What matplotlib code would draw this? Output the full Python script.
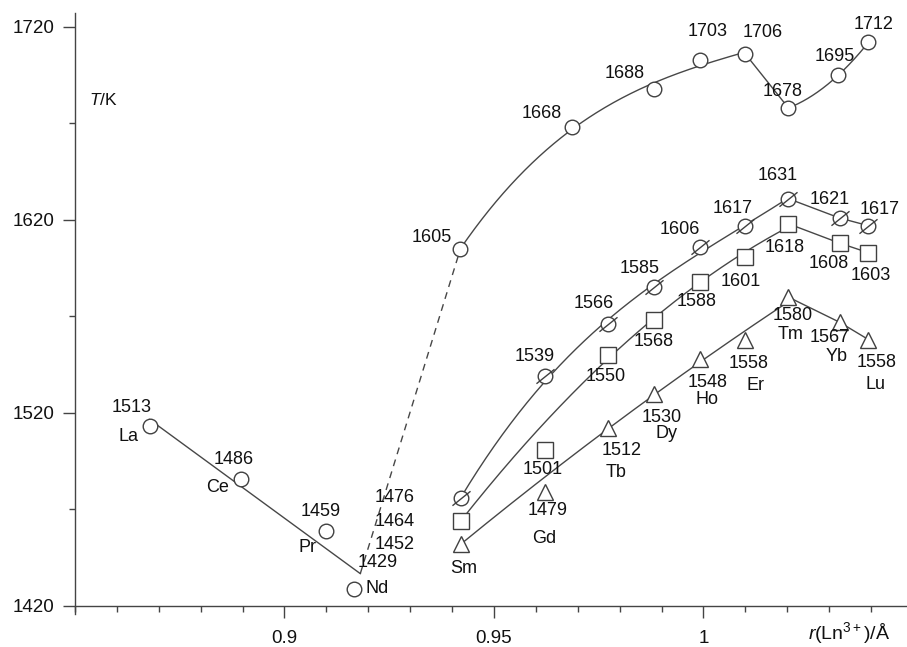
import matplotlib
matplotlib.use('Agg')
import matplotlib.pyplot as plt
from matplotlib.path import Path
from matplotlib.ticker import MultipleLocator, FixedLocator
import numpy as np

plt.rcParams['font.family'] = ['Liberation Sans', 'DejaVu Sans']
plt.rcParams['mathtext.fontset'] = 'custom'
plt.rcParams['mathtext.rm'] = 'Liberation Sans'
plt.rcParams['mathtext.it'] = 'Liberation Sans:italic'

# light lanthanides (La..Nd)
r_light = [0.8678, 0.8897, 0.9100, 0.9167]
t_light = [1513, 1486, 1459, 1429]
el_light = ['La', 'Ce', 'Pr', 'Nd']

# heavy lanthanides (Sm..Lu), three series
r_heavy = [0.9422, 0.9623, 0.9773, 0.9881, 0.9993, 1.0100, 1.0203, 1.0325, 1.0394]
el_heavy = ['Sm', 'Gd', 'Tb', 'Dy', 'Ho', 'Er', 'Tm', 'Yb', 'Lu']
t_hatched = [1476, 1539, 1566, 1585, 1606, 1617, 1631, 1621, 1617]
t_square = [1464, 1501, 1550, 1568, 1588, 1601, 1618, 1608, 1603]
t_triangle = [1452, 1479, 1512, 1530, 1548, 1558, 1580, 1567, 1558]

# upper series
r_top = [0.9420, 0.9687, 0.9881, 0.9993, 1.0100, 1.0203, 1.0322, 1.0394]
t_top = [1605, 1668, 1688, 1703, 1706, 1678, 1695, 1712]

# end of the La-Nd fit line (start of dashed part)
r_fit_end = 0.9181

# label offsets in pixels (dx, dy)
off_light_num = [(-18, 19), (-8, 19), (-6, 19), (23, 26)]
off_light_el = [(-21, -10), (-24, -9), (-19, -17), (23, 0)]
off_top = [(-29, 11), (-31, 14), (-29, 15), (7, 28), (17, 21), (-6, 16), (-4, 19), (5, 18)]
off_hatched = [(-67, 0), (-11, 20), (-15, 21), (-14, 19), (-21, 17), (-13, 17), (-11, 23), (-10, 18), (11, 16)]
off_square = [(-67, 0), (-3, -20), (-3, -21), (0, -21), (-4, -20), (-5, -25), (-4, -24), (-11, -20), (2, -23)]
off_triangle = [(-67, 0), (2, -18), (13, -22), (8, -24), (7, -24), (3, -24), (4, -18), (-10, -15), (8, -23)]
off_el = [(2, -24), (-1, -46), (8, -44), (13, -40), (7, -41), (10, -46), (2, -37), (-3, -34), (7, -45)]

line_c = '#474747'
mark_c = '#404040'
text_c = '#111111'
fs = 13

fig = plt.figure(figsize=(9.07, 6.47), dpi=100)
ax = fig.add_axes([75/907, 0.0515, 832/907, 0.9284])
ax.set_xlim(0.85, 1.0486)
ax.set_ylim(1416, 1727.2)

# La-Nd linear fit + dashed extension
k, b = np.polyfit(r_light, t_light, 1)
xs = np.array([r_light[0], r_fit_end])
ax.plot(xs, k*xs + b, color=line_c, lw=1.0, zorder=1)
ax.plot([r_fit_end, r_top[0]], [k*r_fit_end + b, t_top[0]], color=line_c, lw=1.0,
        ls=(0, (5, 4)), zorder=1)


def smooth(xv, yv, deg, x0, x1):
    c = np.polyfit(xv, yv, deg)
    xx = np.linspace(x0, x1, 200)
    return xx, np.polyval(c, xx)


# upper series: smooth up to Er, straight Er-Tm, smooth Tm-Lu
xx, yy = smooth(r_top[:5], t_top[:5], 3, r_top[0], r_top[4])
ax.plot(xx, yy, color=line_c, lw=1.0, zorder=1)
ax.plot(r_top[4:6], t_top[4:6], color=line_c, lw=1.0, zorder=1)
xx, yy = smooth(r_top[5:], t_top[5:], 2, r_top[5], r_top[7])
ax.plot(xx, yy, color=line_c, lw=1.0, zorder=1)

# lower series: smooth Sm..Tm, straight Tm-Yb-Lu
for ser, skip_gd, deg in [(t_hatched, False, 3), (t_square, True, 2), (t_triangle, True, 2)]:
    idx = [i for i in range(7) if not (skip_gd and i == 1)]
    xx, yy = smooth([r_heavy[i] for i in idx], [ser[i] for i in idx], deg, r_heavy[0], r_heavy[6])
    ax.plot(xx, yy, color=line_c, lw=1.0, zorder=1)
    ax.plot(r_heavy[6:], ser[6:], color=line_c, lw=1.0, zorder=1)

mk = dict(ls='none', mfc='white', mec=mark_c, mew=1.0, zorder=3, clip_on=False)
ax.plot(r_light, t_light, marker='o', ms=10.5, **mk)
ax.plot(r_top, t_top, marker='o', ms=10.5, **mk)
ax.plot(r_heavy, t_hatched, marker='o', ms=10.5, **mk)
slash = Path([[-1, -0.8], [1, 0.8]], [Path.MOVETO, Path.LINETO])
ax.plot(r_heavy, t_hatched, ls='none', marker=slash, ms=13, mec=mark_c, mew=1.0,
        zorder=4, clip_on=False)
ax.plot(r_heavy, t_square, marker='s', ms=11.5, **mk)
ax.plot(r_heavy, t_triangle, marker='^', ms=11, **mk)


def label(x, y, s, off):
    ax.annotate(s, (x, y), xytext=off, textcoords='offset pixels', ha='center',
                va='center', fontsize=fs, color=text_c, zorder=5, annotation_clip=False)


for x, y, e, o1, o2 in zip(r_light, t_light, el_light, off_light_num, off_light_el):
    label(x, y, str(y), o1)
    label(x, y, e, o2)
for x, y, o in zip(r_top, t_top, off_top):
    label(x, y, str(y), o)
for ser, offs in [(t_hatched, off_hatched), (t_square, off_square), (t_triangle, off_triangle)]:
    for x, y, o in zip(r_heavy, ser, offs):
        label(x, y, str(y), o)
for x, y, e, o in zip(r_heavy, t_triangle, el_heavy, off_el):
    label(x, y, e, o)

# axes styling
for s in ['top', 'right']:
    ax.spines[s].set_visible(False)
ax.spines['bottom'].set_position(('data', 1420))
for s in ['left', 'bottom']:
    ax.spines[s].set_color('#444444')
    ax.spines[s].set_linewidth(1.0)

ax.xaxis.set_major_locator(FixedLocator([0.9, 0.95, 1.0]))
ax.set_xticklabels(['0.9', '0.95', '1'])
ax.xaxis.set_minor_locator(MultipleLocator(0.01))
ax.yaxis.set_major_locator(FixedLocator([1420, 1520, 1620, 1720]))
ax.yaxis.set_minor_locator(FixedLocator([1470, 1570, 1670]))
ax.tick_params(which='major', length=8.5, width=1.0, color='#444444', labelsize=13.5,
               labelcolor=text_c)
ax.tick_params(which='minor', length=4, width=1.0, color='#444444')
ax.tick_params(axis='x', which='major', pad=9)
ax.tick_params(axis='y', which='major', pad=6)

fig.text(103/907, 1 - 100/647, r'$\mathit{T}$/K', ha='center', va='center',
         fontsize=12.5, color=text_c)
fig.text(849/907, 1 - 633/647, r'$\mathit{r}$(Ln$^{3+}$)/Å', ha='center', va='center',
         fontsize=14, color=text_c)

fig.savefig('out.png', dpi=100)
